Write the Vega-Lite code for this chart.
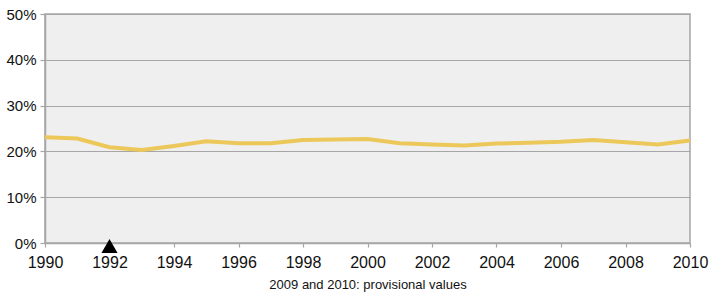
{
  "$schema": "https://vega.github.io/schema/vega-lite/v6.json",
  "width": 645,
  "height": 229,
  "autosize": {"type": "none"},
  "padding": {"left": 45, "top": 14, "right": 28, "bottom": 58},
  "background": "white",
  "config": {
    "view": {"fill": "#efefef", "stroke": "#a6a6a6", "strokeWidth": 1.5},
    "font": "Liberation Sans",
    "axis": {
      "labelFont": "Liberation Sans",
      "labelFontSize": 15,
      "labelColor": "#111111",
      "domainColor": "#a6a6a6",
      "domainWidth": 1.5,
      "tickColor": "#a6a6a6",
      "gridColor": "#a6a6a6",
      "gridWidth": 1.2
    }
  },
  "layer": [
    {
      "data": {"values": [
        {"year": 1990, "value": 23.1},
        {"year": 1991, "value": 22.8},
        {"year": 1992, "value": 20.9},
        {"year": 1993, "value": 20.3},
        {"year": 1994, "value": 21.2},
        {"year": 1995, "value": 22.2},
        {"year": 1996, "value": 21.8},
        {"year": 1997, "value": 21.8},
        {"year": 1998, "value": 22.5},
        {"year": 1999, "value": 22.6},
        {"year": 2000, "value": 22.7},
        {"year": 2001, "value": 21.8},
        {"year": 2002, "value": 21.5},
        {"year": 2003, "value": 21.3},
        {"year": 2004, "value": 21.7},
        {"year": 2005, "value": 21.9},
        {"year": 2006, "value": 22.1},
        {"year": 2007, "value": 22.5},
        {"year": 2008, "value": 22.0},
        {"year": 2009, "value": 21.5},
        {"year": 2010, "value": 22.4}
      ]},
      "mark": {"type": "line", "color": "#ecc85a", "strokeWidth": 4},
      "encoding": {
        "x": {
          "field": "year", "type": "quantitative",
          "scale": {"domain": [1990, 2010], "nice": false, "zero": false},
          "axis": {
            "values": [1990,1991,1992,1993,1994,1995,1996,1997,1998,1999,2000,2001,2002,2003,2004,2005,2006,2007,2008,2009,2010],
            "labelExpr": "datum.value % 2 == 0 ? datum.value + '' : ''",
            "labelFlush": false,
            "labelOverlap": false,
            "labelFontSize": 16,
            "grid": false,
            "tickSize": 4,
            "tickWidth": 1.2,
            "labelPadding": 7,
            "title": "2009 and 2010: provisional values",
            "titleFont": "Liberation Sans",
            "titleFontSize": 13,
            "titleFontWeight": "normal",
            "titleColor": "#111111",
            "titlePadding": 8
          }
        },
        "y": {
          "field": "value", "type": "quantitative",
          "scale": {"domain": [0, 50], "nice": false},
          "axis": {
            "values": [0, 10, 20, 30, 40, 50],
            "labelExpr": "datum.value + '%'",
            "labelFlush": false,
            "tickSize": 5,
            "tickWidth": 1.2,
            "labelPadding": 4,
            "title": null
          }
        }
      }
    },
    {
      "data": {"values": [{"year": 1992, "value": 0}]},
      "mark": {"type": "point", "shape": "triangle-up", "filled": true, "color": "black", "opacity": 1, "size": 260, "yOffset": 3, "clip": false},
      "encoding": {
        "x": {"field": "year", "type": "quantitative"},
        "y": {"field": "value", "type": "quantitative"}
      }
    }
  ]
}
